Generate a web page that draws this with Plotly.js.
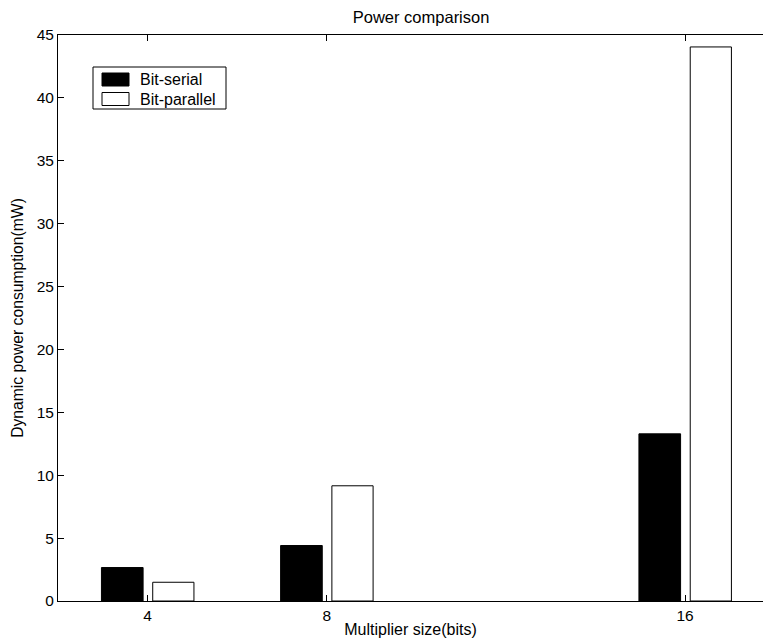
<!DOCTYPE html>
<html>
<head>
<meta charset="utf-8">
<script src="https://cdn.plot.ly/plotly-3.0.1.min.js"></script>
<style>html,body{margin:0;padding:0;background:#fff;}#chart{width:763px;height:644px;}</style>
</head>
<body>
<div id="chart"></div>
<script>
const multiplierSizes = [4, 8, 16];
const seriesNames = ['Bit-serial', 'Bit-parallel'];
const bitSerial = [2.66, 4.41, 13.29];
const bitParallel = [1.49, 9.16, 44.05];
const yTicks = [0, 5, 10, 15, 20, 25, 30, 35, 40, 45];

const FONT = 'Liberation Sans, Arial, Helvetica, sans-serif';
const W = 763, H = 644;
const M = {l: 58, r: 0, t: 35, b: 43};
const PW = W - M.l - M.r, PH = H - M.t - M.b;
// pixel -> paper helpers (for legend box only)
const px = v => (v - M.l) / PW;
const py = v => (H - M.b - v) / PH;

const fills = ['#000000', '#ffffff'];

const traces = [
  {
    type: 'bar', name: seriesNames[0], x: multiplierSizes, y: bitSerial,
    width: 0.93, offset: -1.03, showlegend: false,
    marker: {color: fills[0], line: {color: '#000000', width: 1}}
  },
  {
    type: 'bar', name: seriesNames[1], x: multiplierSizes, y: bitParallel,
    width: 0.92, offset: 0.115, showlegend: false,
    marker: {color: fills[1], line: {color: '#000000', width: 1}}
  }
];

// Legend drawn as a MATLAB-style box
const shapes = [{
  type: 'rect', xref: 'paper', yref: 'paper',
  x0: px(93), x1: px(226), y0: py(67), y1: py(109),
  line: {color: '#000', width: 1}, fillcolor: '#ffffff', layer: 'above'
}];
const annotations = [];
seriesNames.forEach((name, i) => {
  const top = 73 + i * 19.5;
  shapes.push({
    type: 'rect', xref: 'paper', yref: 'paper',
    x0: px(102), x1: px(129), y0: py(top), y1: py(top + 13),
    line: {color: '#000', width: 1}, fillcolor: fills[i], layer: 'above'
  });
  annotations.push({
    xref: 'paper', yref: 'paper', x: px(138), y: py(top + 6.5),
    xanchor: 'left', yanchor: 'middle', showarrow: false,
    text: name, font: {family: FONT, size: 16, color: '#000'}
  });
});

const layout = {
  width: W, height: H,
  margin: {l: M.l, r: M.r, t: M.t, b: M.b, pad: 0},
  paper_bgcolor: '#ffffff', plot_bgcolor: '#ffffff',
  font: {family: FONT, size: 15.5, color: '#000000'},
  barmode: 'group',
  showlegend: false,
  title: {
    text: 'Power comparison', font: {family: FONT, size: 16.5, color: '#000'},
    xref: 'paper', x: 0.515, xanchor: 'center',
    yref: 'container', y: 1 - 17/644, yanchor: 'middle'
  },
  xaxis: {
    range: [2, 17.74], tickmode: 'array', tickvals: multiplierSizes,
    ticktext: multiplierSizes.map(String),
    ticks: 'inside', ticklen: 6, tickcolor: '#000', tickwidth: 1,
    showline: true, linecolor: '#000', linewidth: 1, mirror: 'ticks',
    showgrid: false, zeroline: false,
    tickfont: {family: FONT, size: 15.5},
    title: {text: 'Multiplier size(bits)', font: {family: FONT, size: 16}, standoff: 1}
  },
  yaxis: {
    range: [0, 45], tickmode: 'array', tickvals: yTicks,
    ticks: 'inside', ticklen: 6, tickcolor: '#000', tickwidth: 1,
    showline: true, linecolor: '#000', linewidth: 1, mirror: false,
    showgrid: false, zeroline: false,
    tickfont: {family: FONT, size: 15.5},
    title: {text: 'Dynamic power consumption(mW)', font: {family: FONT, size: 15.7}, standoff: 9}
  },
  shapes: shapes,
  annotations: annotations
};

Plotly.newPlot('chart', traces, layout, {displayModeBar: false, staticPlot: true});
</script>
</body>
</html>
